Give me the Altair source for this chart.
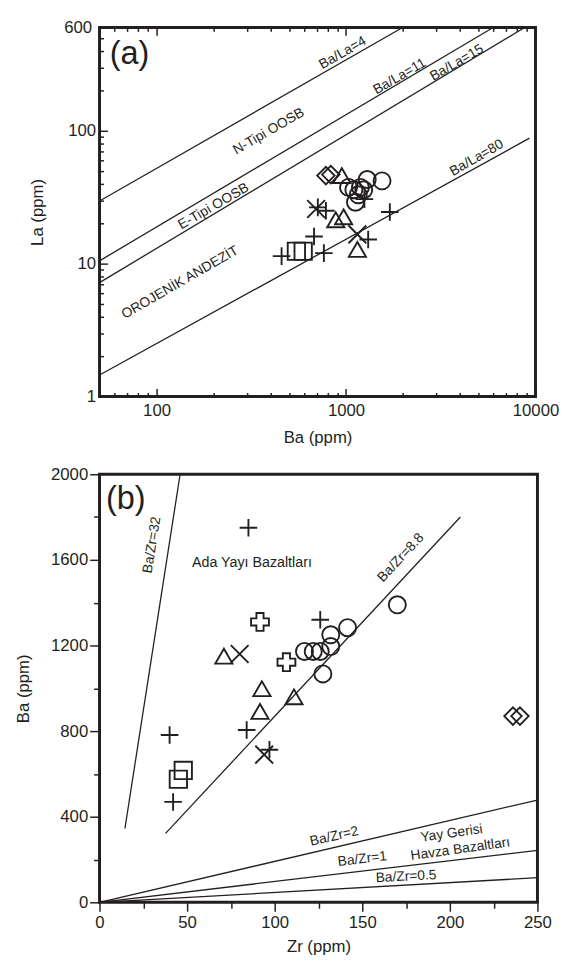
import altair as alt
import pandas as pd

FONT = "Liberation Sans"
INK = "#231f20"

# ---------------- Panel (a): La vs Ba (log-log) ----------------
a_circle_ba = [1031, 1191, 1294, 1549, 1122, 1100, 1240, 1160]
a_circle_la = [37.5, 37.5, 43, 42, 29, 36, 36, 33]
a_triangle_ba = [883, 971, 1148, 950]
a_triangle_la = [21.4, 22.5, 12.8, 46]
a_square_ba = [547, 594]
a_square_la = [12.4, 12.4]
a_diamond_ba = [783, 831]
a_diamond_la = [46, 46.8]
a_plus_ba = [457, 678, 764, 710, 783, 1250, 1703, 1309]
a_plus_la = [11.4, 16, 12, 26.5, 25, 30.6, 24.5, 15.2]
a_x_ba = [695, 1148]
a_x_la = [25.8, 16.6]

a_line_names = ["Ba/La=4", "Ba/La=11", "Ba/La=15", "Ba/La=80"]
a_line_ba0 = [50, 50, 50, 50]
a_line_la0 = [29.6, 10.5, 7.2, 1.45]
a_line_ba1 = [1990, 5980, 8770, 9300]
a_line_la1 = [600, 600, 600, 88]

a_text = ["(a)", "Ba/La=4", "Ba/La=11", "Ba/La=15", "N-Tipi OOSB", "Ba/La=80",
          "E-Tipi OOSB", "OROJENİK ANDEZİT"]
a_text_ba = [72, 960, 1920, 3845, 391, 4890, 200, 133]
a_text_la = [380, 385, 256, 325, 99, 62.5, 27, 7.2]
a_text_angle = [0, 330, 330, 330, 330, 330, 330, 330]
a_text_size = [33, 14, 14, 14, 14, 14, 14, 14]

xa_ticks = [60, 70, 80, 90, 100, 200, 300, 400, 500, 600, 700, 800, 900, 1000,
            2000, 3000, 4000, 5000, 6000, 7000, 8000, 9000, 10000]
xa_labels = [100, 1000, 10000]
ya_ticks = [1, 2, 3, 4, 5, 6, 7, 8, 9, 10, 20, 30, 40, 50, 60, 70, 80, 90,
            100, 200, 300, 400, 500, 600]
ya_labels = [1, 10, 100, 600]

# ---------------- Panel (b): Ba vs Zr ----------------
b_circle_zr = [117, 122, 126, 132, 132, 141.6, 127.5, 170]
b_circle_ba = [1172, 1172, 1172, 1195, 1250, 1283, 1067, 1390]
b_triangle_zr = [71, 92.7, 111, 91.6]
b_triangle_ba = [1150, 998, 960, 892]
b_square_zr = [45, 47.8]
b_square_ba = [575, 616]
b_diamond_zr = [236, 240]
b_diamond_ba = [870, 870]
b_plus_zr = [85, 126, 40, 84, 42, 97]
b_plus_ba = [1750, 1320, 782, 805, 469, 713]
b_x_zr = [80, 94]
b_x_ba = [1160, 690]
b_cross_zr = [91.6, 106.7]
b_cross_ba = [1310, 1122]

b_line_names = ["Ba/Zr=32", "Ba/Zr=8.8", "Ba/Zr=2", "Ba/Zr=1", "Ba/Zr=0.5"]
b_line_zr0 = [14.5, 37.7, 0, 0, 0]
b_line_ba0 = [345, 322, 0, 0, 0]
b_line_zr1 = [46, 206, 250, 250, 250]
b_line_ba1 = [2000, 1800, 478, 243, 115]

b_text = ["(b)", "Ba/Zr=32", "Ada Yayı Bazaltları", "Ba/Zr=8.8", "Ba/Zr=2",
          "Ba/Zr=1", "Ba/Zr=0.5", "Yay Gerisi", "Havza Bazaltları"]
b_text_zr = [15, 30, 87, 172, 134, 150, 175, 201, 206]
b_text_ba = [1885, 1670, 1586, 1610, 308, 202, 120, 322, 248]
b_text_angle = [0, 279, 0, 313, 347, 353, 357, 352, 352]
b_text_size = [33, 14, 14.5, 14, 14, 14, 14, 14, 14]

xb_ticks = [0, 25, 50, 75, 100, 125, 150, 175, 200, 225, 250]
xb_labels = [0, 50, 100, 150, 200, 250]
yb_ticks = [0, 200, 400, 600, 800, 1000, 1200, 1400, 1600, 1800, 2000]
yb_labels = [0, 400, 800, 1200, 1600, 2000]

kinds = ["circle", "triangle", "square", "diamond", "plus", "x", "cross"]
shapes = ["circle", "triangle-up", "square", "diamond",
          "M-1,0L1,0M0,-1L0,1", "M-1,-1L1,1M-1,1L1,-1", "cross"]
a_sizes = [300, 330, 150, 180, 330, 200, 250]
b_sizes = [430, 450, 330, 220, 480, 250, 330]
stroke_widths = [1.9, 1.9, 1.9, 2.3, 1.9, 1.4, 2.3]


def points_df(groups, xn, yn):
    rows = []
    for kind, xs, ys in groups:
        for x, y in zip(xs, ys):
            rows.append({xn: x, yn: y, "kind": kind})
    return pd.DataFrame(rows)


def lines_df(names, x0, y0, x1, y1, xn, yn):
    rows = []
    for n, a, b, c, d in zip(names, x0, y0, x1, y1):
        rows.append({"name": n, xn: a, yn: b, "o": 0})
        rows.append({"name": n, xn: c, yn: d, "o": 1})
    return pd.DataFrame(rows)


def in_list(vals):
    return "indexof([" + ",".join(str(v) for v in vals) + "], datum.value) >= 0"


a_pts = points_df([
    ("circle", a_circle_ba, a_circle_la), ("triangle", a_triangle_ba, a_triangle_la),
    ("square", a_square_ba, a_square_la), ("diamond", a_diamond_ba, a_diamond_la),
    ("plus", a_plus_ba, a_plus_la), ("x", a_x_ba, a_x_la)], "Ba", "La")
a_lines = lines_df(a_line_names, a_line_ba0, a_line_la0, a_line_ba1, a_line_la1, "Ba", "La")
a_txt = pd.DataFrame({"Ba": a_text_ba, "La": a_text_la, "t": a_text,
                      "ang": a_text_angle, "fs": a_text_size})

b_pts = points_df([
    ("circle", b_circle_zr, b_circle_ba), ("triangle", b_triangle_zr, b_triangle_ba),
    ("square", b_square_zr, b_square_ba), ("diamond", b_diamond_zr, b_diamond_ba),
    ("plus", b_plus_zr, b_plus_ba), ("x", b_x_zr, b_x_ba),
    ("cross", b_cross_zr, b_cross_ba)], "Zr", "Ba")
b_lines = lines_df(b_line_names, b_line_zr0, b_line_ba0, b_line_zr1, b_line_ba1, "Zr", "Ba")
b_txt = pd.DataFrame({"Zr": b_text_zr, "Ba": b_text_ba, "t": b_text,
                      "ang": b_text_angle, "fs": b_text_size})

# ---------- scales & axes ----------
xa_scale = alt.Scale(type="log", domain=[50, 10000], nice=False)
ya_scale = alt.Scale(type="log", domain=[1, 600], nice=False)

xa_axis_bottom = alt.Axis(values=xa_ticks, orient="bottom", labelFlush=False, labelOverlap=False,
                          labelExpr=in_list(xa_labels) + " ? format(datum.value, 'd') : ''",
                          tickSize={"condition": {"test": in_list(xa_labels), "value": -8}, "value": -4},
                          labelPadding=14, titlePadding=8, title="Ba (ppm)")
xa_axis_top = alt.Axis(values=xa_ticks, orient="top", labels=False, title=None,
                       tickSize={"condition": {"test": in_list(xa_labels), "value": -8}, "value": -4})
ya_axis = alt.Axis(values=ya_ticks, labelOverlap=False,
                   labelExpr=in_list(ya_labels) + " ? format(datum.value, 'd') : ''",
                   tickSize={"condition": {"test": in_list([1, 10, 100]), "value": -8}, "value": -4},
                   labelPadding=12, titlePadding=18, title="La (ppm)")

shape_enc = alt.Shape("kind:N", scale=alt.Scale(domain=kinds, range=shapes), legend=None)
sw_enc = alt.StrokeWidth("kind:N", scale=alt.Scale(domain=kinds, range=stroke_widths), legend=None)

ya_enc = alt.Y("La:Q", scale=ya_scale, axis=ya_axis)

a_line_layer = alt.Chart(a_lines).mark_line(color=INK, strokeWidth=1.3).encode(
    x=alt.X("Ba:Q", scale=xa_scale, axis=xa_axis_top),
    y=ya_enc, detail="name:N", order="o:Q")
a_pt_layer = alt.Chart(a_pts).mark_point(filled=False, color=INK, opacity=1).encode(
    x=alt.X("Ba:Q", scale=xa_scale, axis=xa_axis_bottom),
    y=ya_enc, shape=shape_enc,
    size=alt.Size("kind:N", scale=alt.Scale(domain=kinds, range=a_sizes), legend=None),
    strokeWidth=sw_enc)
a_txt_layer = alt.Chart(a_txt).mark_text(font=FONT, color=INK).encode(
    x=alt.X("Ba:Q", scale=xa_scale, axis=None),
    y=ya_enc, text="t:N",
    angle=alt.Angle("ang:Q", scale=None),
    size=alt.Size("fs:Q", scale=None))

panel_a = alt.layer(a_line_layer, a_pt_layer, a_txt_layer).resolve_axis(
    x="independent").properties(width=443, height=375)

xb_scale = alt.Scale(domain=[0, 250], nice=False)
yb_scale = alt.Scale(domain=[0, 2000], nice=False)
xb_axis = alt.Axis(values=xb_ticks, labelFlush=False, labelOverlap=False,
                   labelExpr=in_list(xb_labels) + " ? format(datum.value, 'd') : ''",
                   tickSize={"condition": {"test": in_list(xb_labels), "value": 9}, "value": 6},
                   labelPadding=4, titlePadding=8, title="Zr (ppm)")
yb_axis = alt.Axis(values=yb_ticks, labelOverlap=False,
                   labelExpr=in_list(yb_labels) + " ? format(datum.value, 'd') : ''",
                   tickSize={"condition": {"test": in_list(yb_labels), "value": 10}, "value": 6},
                   labelPadding=2, titlePadding=18, title="Ba (ppm)")
xb_enc = alt.X("Zr:Q", scale=xb_scale, axis=xb_axis)
yb_enc = alt.Y("Ba:Q", scale=yb_scale, axis=yb_axis)

b_line_layer = alt.Chart(b_lines).mark_line(color=INK, strokeWidth=1.3).encode(
    x=xb_enc, y=yb_enc, detail="name:N", order="o:Q")
b_pt_layer = alt.Chart(b_pts).mark_point(filled=False, color=INK, opacity=1).encode(
    x=xb_enc, y=yb_enc, shape=shape_enc,
    size=alt.Size("kind:N", scale=alt.Scale(domain=kinds, range=b_sizes), legend=None),
    strokeWidth=sw_enc)
b_txt_layer = alt.Chart(b_txt).mark_text(font=FONT, color=INK).encode(
    x=xb_enc, y=yb_enc, text="t:N",
    angle=alt.Angle("ang:Q", scale=None),
    size=alt.Size("fs:Q", scale=None))

panel_b = alt.layer(b_line_layer, b_pt_layer, b_txt_layer).properties(width=445, height=435)

chart = alt.vconcat(panel_a, panel_b, spacing=16).properties(
    padding={"left": 5, "top": 1, "right": 5, "bottom": 5}
).configure_view(stroke=INK, strokeWidth=3).configure_axis(
    labelFont=FONT, titleFont=FONT, labelFontSize=17, titleFontSize=17,
    titleFontWeight="normal", labelColor=INK, titleColor=INK, tickColor=INK,
    tickWidth=1.5, grid=False, domain=False)

chart.save("out.html", embed_options={"renderer": "svg", "actions": False})
